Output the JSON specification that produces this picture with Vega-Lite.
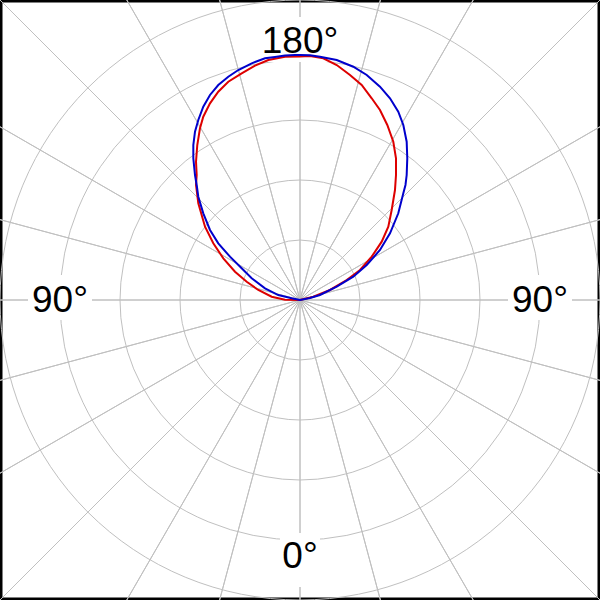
{
  "$schema": "https://vega.github.io/schema/vega-lite/v6.json",
  "width": 600,
  "height": 600,
  "autosize": {"type": "none"},
  "padding": 0,
  "background": "white",
  "config": {"view": {"stroke": "black", "strokeWidth": 5}},
  "datasets": {
    "sectors": [{"s":1},{"s":1},{"s":1},{"s":1},{"s":1},{"s":1},{"s":1},{"s":1},{"s":1},{"s":1},{"s":1},{"s":1},{"s":1},{"s":1},{"s":1},{"s":1},{"s":1},{"s":1},{"s":1},{"s":1},{"s":1},{"s":1},{"s":1},{"s":1}],
    "rings": [{"r":1},{"r":2},{"r":3},{"r":4},{"r":5}],
    "labels": [
      {"label":"180°","x":0,"y":4.117},
      {"label":"90°","x":-4,"y":-0.2},
      {"label":"90°","x":4,"y":-0.2},
      {"label":"0°","x":0,"y":-4.467}
    ],
    "curves": [
      {"series":"blue","i":0,"x":0,"y":0},
      {"series":"blue","i":1,"x":-0.138,"y":0.028},
      {"series":"blue","i":2,"x":-0.362,"y":0.083},
      {"series":"blue","i":3,"x":-0.583,"y":0.195},
      {"series":"blue","i":4,"x":-0.805,"y":0.362},
      {"series":"blue","i":5,"x":-0.972,"y":0.528},
      {"series":"blue","i":6,"x":-1.167,"y":0.722},
      {"series":"blue","i":7,"x":-1.362,"y":0.945},
      {"series":"blue","i":8,"x":-1.5,"y":1.167},
      {"series":"blue","i":9,"x":-1.612,"y":1.445},
      {"series":"blue","i":10,"x":-1.695,"y":1.722},
      {"series":"blue","i":11,"x":-1.722,"y":1.917},
      {"series":"blue","i":12,"x":-1.75,"y":2.083},
      {"series":"blue","i":13,"x":-1.778,"y":2.362},
      {"series":"blue","i":14,"x":-1.778,"y":2.583},
      {"series":"blue","i":15,"x":-1.75,"y":2.805},
      {"series":"blue","i":16,"x":-1.695,"y":3.0},
      {"series":"blue","i":17,"x":-1.612,"y":3.222},
      {"series":"blue","i":18,"x":-1.5,"y":3.417},
      {"series":"blue","i":19,"x":-1.362,"y":3.583},
      {"series":"blue","i":20,"x":-1.195,"y":3.722},
      {"series":"blue","i":21,"x":-1.028,"y":3.833},
      {"series":"blue","i":22,"x":-0.805,"y":3.945},
      {"series":"blue","i":23,"x":-0.583,"y":4.028},
      {"series":"blue","i":24,"x":-0.417,"y":4.05},
      {"series":"blue","i":25,"x":-0.25,"y":4.075},
      {"series":"blue","i":26,"x":-0.083,"y":4.083},
      {"series":"blue","i":27,"x":0,"y":4.083},
      {"series":"blue","i":28,"x":0.167,"y":4.078},
      {"series":"blue","i":29,"x":0.333,"y":4.055},
      {"series":"blue","i":30,"x":0.612,"y":4.0},
      {"series":"blue","i":31,"x":0.888,"y":3.888},
      {"series":"blue","i":32,"x":1.112,"y":3.75},
      {"series":"blue","i":33,"x":1.333,"y":3.555},
      {"series":"blue","i":34,"x":1.5,"y":3.362},
      {"series":"blue","i":35,"x":1.638,"y":3.138},
      {"series":"blue","i":36,"x":1.722,"y":2.917},
      {"series":"blue","i":37,"x":1.778,"y":2.638},
      {"series":"blue","i":38,"x":1.788,"y":2.362},
      {"series":"blue","i":39,"x":1.778,"y":2.083},
      {"series":"blue","i":40,"x":1.758,"y":1.917},
      {"series":"blue","i":41,"x":1.722,"y":1.778},
      {"series":"blue","i":42,"x":1.638,"y":1.445},
      {"series":"blue","i":43,"x":1.5,"y":1.112},
      {"series":"blue","i":44,"x":1.333,"y":0.833},
      {"series":"blue","i":45,"x":1.112,"y":0.583},
      {"series":"blue","i":46,"x":0.888,"y":0.388},
      {"series":"blue","i":47,"x":0.612,"y":0.222},
      {"series":"blue","i":48,"x":0.333,"y":0.083},
      {"series":"blue","i":49,"x":0.167,"y":0.033},
      {"series":"blue","i":50,"x":0,"y":0},
      {"series":"red","i":0,"x":0,"y":0},
      {"series":"red","i":1,"x":-0.25,"y":0.005},
      {"series":"red","i":2,"x":-0.472,"y":0.055},
      {"series":"red","i":3,"x":-0.695,"y":0.167},
      {"series":"red","i":4,"x":-0.888,"y":0.305},
      {"series":"red","i":5,"x":-1.083,"y":0.472},
      {"series":"red","i":6,"x":-1.278,"y":0.695},
      {"series":"red","i":7,"x":-1.445,"y":0.945},
      {"series":"red","i":8,"x":-1.583,"y":1.222},
      {"series":"red","i":9,"x":-1.695,"y":1.612},
      {"series":"red","i":10,"x":-1.733,"y":1.917},
      {"series":"red","i":11,"x":-1.722,"y":2.083},
      {"series":"red","i":12,"x":-1.733,"y":2.305},
      {"series":"red","i":13,"x":-1.712,"y":2.583},
      {"series":"red","i":14,"x":-1.667,"y":2.862},
      {"series":"red","i":15,"x":-1.612,"y":3.055},
      {"series":"red","i":16,"x":-1.5,"y":3.278},
      {"series":"red","i":17,"x":-1.362,"y":3.472},
      {"series":"red","i":18,"x":-1.195,"y":3.638},
      {"series":"red","i":19,"x":-0.972,"y":3.778},
      {"series":"red","i":20,"x":-0.75,"y":3.905},
      {"series":"red","i":21,"x":-0.528,"y":4.0},
      {"series":"red","i":22,"x":-0.25,"y":4.055},
      {"series":"red","i":23,"x":0,"y":4.058},
      {"series":"red","i":24,"x":0.167,"y":4.067},
      {"series":"red","i":25,"x":0.388,"y":4.028},
      {"series":"red","i":26,"x":0.612,"y":3.917},
      {"series":"red","i":27,"x":0.833,"y":3.75},
      {"series":"red","i":28,"x":1.028,"y":3.583},
      {"series":"red","i":29,"x":1.195,"y":3.362},
      {"series":"red","i":30,"x":1.333,"y":3.167},
      {"series":"red","i":31,"x":1.455,"y":2.917},
      {"series":"red","i":32,"x":1.555,"y":2.638},
      {"series":"red","i":33,"x":1.6,"y":2.362},
      {"series":"red","i":34,"x":1.6,"y":2.083},
      {"series":"red","i":35,"x":1.583,"y":1.833},
      {"series":"red","i":36,"x":1.528,"y":1.5},
      {"series":"red","i":37,"x":1.472,"y":1.222},
      {"series":"red","i":38,"x":1.362,"y":0.972},
      {"series":"red","i":39,"x":1.195,"y":0.722},
      {"series":"red","i":40,"x":1.0,"y":0.5},
      {"series":"red","i":41,"x":0.778,"y":0.333},
      {"series":"red","i":42,"x":0.5,"y":0.167},
      {"series":"red","i":43,"x":0.222,"y":0.055},
      {"series":"red","i":44,"x":0,"y":0}
    ]
  },
  "layer": [
    {
      "data": {"name": "sectors"},
      "mark": {"type": "arc", "filled": false, "stroke": "#c0c0c0", "strokeWidth": 1, "radius": 700, "clip": true},
      "encoding": {
        "theta": {"field": "s", "type": "quantitative", "stack": true}
      }
    },
    {
      "data": {"name": "rings"},
      "mark": {"type": "arc", "filled": false, "stroke": "#c0c0c0", "strokeWidth": 1, "theta": 0, "theta2": 6.2832},
      "encoding": {
        "radius": {"field": "r", "type": "quantitative", "stack": null, "scale": {"type": "linear", "domain": [0, 5], "range": [0, 300], "zero": true}}
      }
    },
    {
      "data": {"name": "labels"},
      "transform": [{"filter": "datum.label === '180°'"}],
      "mark": {"type": "point", "shape": "M-42,-36H42V9H-42Z", "size": 4, "filled": true, "color": "white", "opacity": 1, "strokeWidth": 0},
      "encoding": {
        "x": {"field": "x", "type": "quantitative", "scale": {"domain": [-5, 5], "nice": false, "zero": false}, "axis": null},
        "y": {"field": "y", "type": "quantitative", "scale": {"domain": [-5, 5], "nice": false, "zero": false}, "axis": null}
      }
    },
    {
      "data": {"name": "labels"},
      "transform": [{"filter": "datum.label === '90°'"}],
      "mark": {"type": "point", "shape": "M-32,-37H32V8H-32Z", "size": 4, "filled": true, "color": "white", "opacity": 1, "strokeWidth": 0},
      "encoding": {
        "x": {"field": "x", "type": "quantitative", "axis": null},
        "y": {"field": "y", "type": "quantitative", "axis": null}
      }
    },
    {
      "data": {"name": "labels"},
      "transform": [{"filter": "datum.label === '0°'"}],
      "mark": {"type": "point", "shape": "M-20,-35H20V19H-20Z", "size": 4, "filled": true, "color": "white", "opacity": 1, "strokeWidth": 0},
      "encoding": {
        "x": {"field": "x", "type": "quantitative", "axis": null},
        "y": {"field": "y", "type": "quantitative", "axis": null}
      }
    },
    {
      "data": {"name": "labels"},
      "mark": {"type": "text", "font": "Liberation Sans", "fontSize": 37, "align": "center", "baseline": "alphabetic", "color": "black"},
      "encoding": {
        "x": {"field": "x", "type": "quantitative", "axis": null},
        "y": {"field": "y", "type": "quantitative", "axis": null},
        "text": {"field": "label", "type": "nominal"}
      }
    },
    {
      "data": {"name": "curves"},
      "transform": [{"filter": "datum.series === 'red'"}],
      "mark": {"type": "line", "color": "#dd0000", "strokeWidth": 2},
      "encoding": {
        "x": {"field": "x", "type": "quantitative", "axis": null},
        "y": {"field": "y", "type": "quantitative", "axis": null},
        "order": {"field": "i", "type": "quantitative"}
      }
    },
    {
      "data": {"name": "curves"},
      "transform": [{"filter": "datum.series === 'blue'"}],
      "mark": {"type": "line", "color": "#0000cc", "strokeWidth": 2},
      "encoding": {
        "x": {"field": "x", "type": "quantitative", "axis": null},
        "y": {"field": "y", "type": "quantitative", "axis": null},
        "order": {"field": "i", "type": "quantitative"}
      }
    }
  ]
}
